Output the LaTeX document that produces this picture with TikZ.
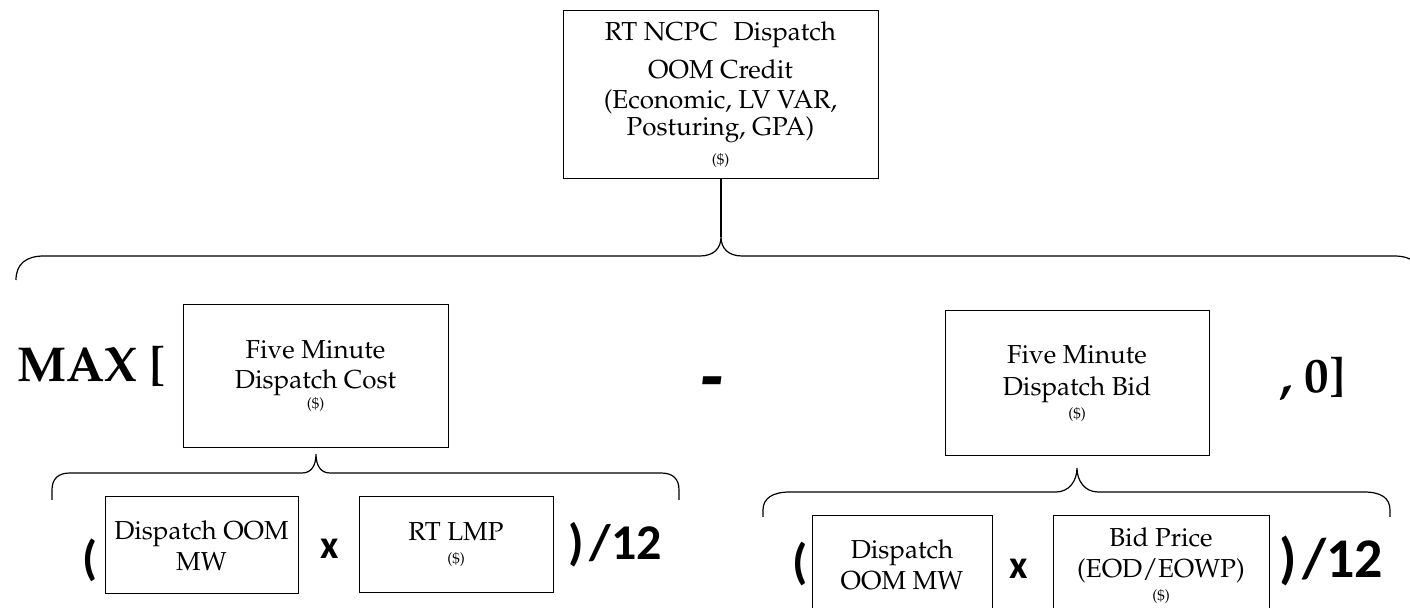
\documentclass[tikz,border=0pt]{standalone}
\usepackage[T1]{fontenc}
\usepackage{fontspec}
\newfontfamily\calfont{Carlito}
% Palatino (URW Palladio, Type 1) for the box texts
\newcommand\palfont{\fontencoding{T1}\fontfamily{ppl}\selectfont}
\newcommand\usd{{\fontsize{7.5}{9}\selectfont(\$)}}
\tikzset{
  box/.style={draw, line width=0.5pt, inner sep=0pt, align=center,
    font=\palfont\fontsize{13}{15}\selectfont},
  brace/.style={line width=0.6pt},
  bigpal/.style={inner sep=0pt, anchor=base west,
    font=\palfont\fontsize{24.5}{28}\selectfont\bfseries},
  bigcal/.style={inner sep=0pt, anchor=base west, font=\calfont\bfseries},
}
\begin{document}
\begin{tikzpicture}[x=0.5pt, y=-0.5pt]
\clip (0,0) rectangle (1410,608);

% result box
\node[box, minimum width=157.5pt, minimum height=84pt] (credit) at (720.5,95)
  {RT NCPC\hspace{0.6em}Dispatch\\[4pt] OOM Credit\\ (Economic, LV VAR,\\[-1.5pt] Posturing, GPA)\\[-0.5pt] \usd};

% first level
\node[bigpal] (max) at (17,382) {MAX [};
\node[box, minimum width=132.5pt, minimum height=71.5pt] (cost) at (315.5,376.5)
  {Five Minute\\ Dispatch Cost\\[-5pt] \usd};
\node[inner sep=0pt, anchor=base, font=\calfont\bfseries\itshape\fontsize{40}{40}\selectfont] (minus) at (711.5,404) {-};
\node[box, minimum width=132pt, minimum height=72.5pt] (bid) at (1077,383.5)
  {Five Minute\\[1pt] Dispatch Bid\\[-3.5pt] \usd};
\node[bigpal] (zero) at (1280,393) {, 0]};

% cost terms
\node[bigcal, font=\calfont\bfseries\fontsize{24}{27}\selectfont] (lpl) at (82,575) {(};
\node[box, minimum width=96.5pt, minimum height=48.5pt] (mwl) at (201.5,545.5)
  {Dispatch OOM\\[0.5pt] MW};
\node[bigcal, font=\calfont\bfseries\fontsize{20}{22}\selectfont] (xl) at (320,559) {x};
\node[box, minimum width=97pt, minimum height=48pt] (lmp) at (456,545)
  {RT LMP\\[-3.5pt] \usd};
\node[bigcal, font=\calfont\bfseries\fontsize{25}{28}\selectfont] (divl) at (568,560) {)\hspace{0.12em}/12};

% bid terms
\node[bigcal, font=\calfont\bfseries\fontsize{24.5}{27}\selectfont] (lpr) at (792,579) {(};
\node[box, minimum width=90pt, minimum height=49pt] (mwr) at (902,565)
  {Dispatch\\[0.5pt] OOM MW};
\node[bigcal, font=\calfont\bfseries\fontsize{20}{22}\selectfont] (xr) at (1009,579) {x};
\node[box, minimum width=108pt, minimum height=50pt] (price) at (1161,566)
  {Bid Price\\[0.5pt] (EOD/EOWP)\\[-3.5pt] \usd};
\node[bigcal, font=\calfont\bfseries\fontsize{28}{30}\selectfont] (divr) at (1279,578) {)\hspace{0.1em}/12};

% brace tips
\coordinate (tipA) at (721,237);
\coordinate (tipB) at (316,454);
\coordinate (tipC) at (1077,468);

% connector from the result box to the main brace
\draw[line width=0.6pt] (credit.south -| tipA) -- (tipA);

% main brace
\draw[brace] (16,280) .. controls (16,264) and (26,256) .. (44,256) -- (700,256)
  .. controls (714,256) and (721,248) .. (tipA)
  .. controls (721,248) and (728,256) .. (742,256) -- (1394,256)
  .. controls (1412,256) and (1422,264) .. (1422,280);

% brace under the dispatch cost
\draw[brace] (52,500) -- (52,490) .. controls (52,479) and (58,473) .. (70,473) -- (302,473)
  .. controls (311,473) and (316,466) .. (tipB)
  .. controls (316,466) and (321,473) .. (330,473) -- (661,473)
  .. controls (673,473) and (679,479) .. (679,490) -- (679,500);

% brace under the dispatch bid
\draw[brace] (763,517) -- (763,510) .. controls (763,498) and (773,492) .. (790,492) -- (1056,492)
  .. controls (1069,492) and (1077,481) .. (tipC)
  .. controls (1077,481) and (1085,492) .. (1098,492) -- (1364,492)
  .. controls (1381,492) and (1390,498) .. (1390,510) -- (1390,517);
\end{tikzpicture}
\end{document}
